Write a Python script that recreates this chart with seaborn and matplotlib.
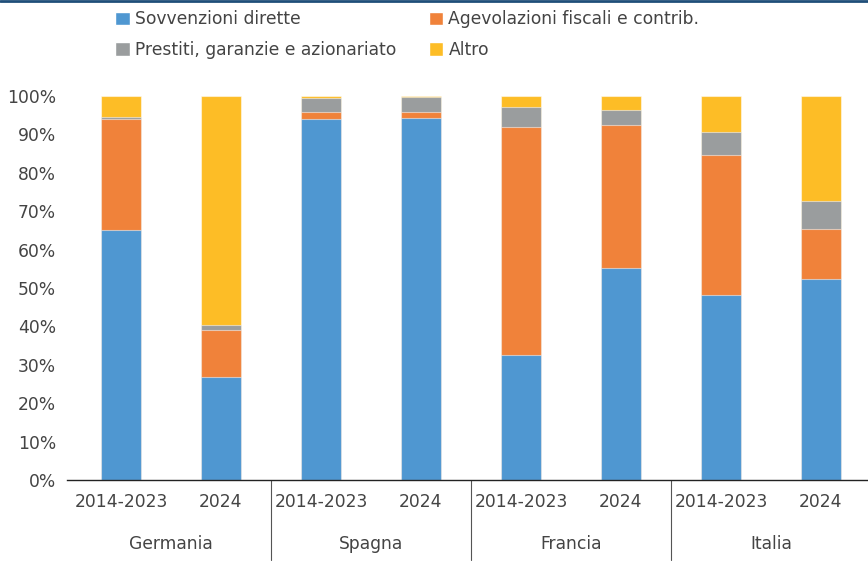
import matplotlib
matplotlib.use("Agg")
import matplotlib.pyplot as plt
import seaborn as sns
import pandas as pd
import numpy as np
from matplotlib.patches import Patch
from matplotlib.lines import Line2D

countries = ["Germania", "Spagna", "Francia", "Italia"]
periods = ["2014-2023", "2024"]
series = ["Sovvenzioni dirette", "Agevolazioni fiscali e contrib.",
          "Prestiti, garanzie e azionariato", "Altro"]
sovvenzioni = [65.2, 26.8, 94.0, 94.3, 32.6, 55.3, 48.1, 52.3]
agevolazioni = [28.8, 12.3, 1.9, 1.6, 59.2, 37.1, 36.6, 13.0]
prestiti = [0.5, 1.3, 3.7, 3.9, 5.4, 4.0, 5.8, 7.4]
altro = [5.5, 59.6, 0.4, 0.2, 2.8, 3.6, 9.5, 27.3]
yticks = [0, 10, 20, 30, 40, 50, 60, 70, 80, 90, 100]

colors = ["#4F97D1", "#F0823A", "#9A9D9E", "#FDBD26"]
text_color = "#444444"
fs = 12.3

sns.set_theme(style="white")
plt.rcParams["font.family"] = ["DejaVu Sans"]

keys = [f"{c} {p}" for c in countries for p in periods]
df = pd.DataFrame({"key": keys, "s1": sovvenzioni, "s2": agevolazioni,
                   "s3": prestiti, "s4": altro})
cum = df[["s1", "s2", "s3", "s4"]].cumsum(axis=1)

fig = plt.figure(figsize=(8.68, 5.70), dpi=100)
ax = fig.add_axes([67 / 868, 90 / 570, 801 / 868, 384 / 570])

for col, color in zip(["s4", "s3", "s2", "s1"], colors[::-1]):
    sns.barplot(x=df["key"], y=cum[col], order=keys, color=color, width=0.4,
                saturation=1, edgecolor=(1, 1, 1, 0.5), linewidth=0.8, ax=ax,
                clip_on=False)

ax.set_xlim(-0.54, 7.47)
ax.set_ylim(0, 100)
ax.set_yticks(yticks)
ax.set_yticklabels([f"{v}%" for v in yticks], fontsize=fs, color=text_color)
ax.set_xticks(range(len(keys)))
ax.set_xticklabels([p for c in countries for p in periods], fontsize=fs,
                   color=text_color)
ax.tick_params(axis="x", length=0, pad=9.5)
ax.tick_params(axis="y", length=0, pad=8.0)
ax.set_xlabel("")
ax.set_ylabel("")
for s in ["left", "right", "top"]:
    ax.spines[s].set_visible(False)
ax.spines["bottom"].set_color("#222222")
ax.spines["bottom"].set_linewidth(1.0)
ax.grid(False)

trans = matplotlib.transforms.blended_transform_factory(ax.transData, ax.transAxes)
for i, c in enumerate(countries):
    ax.text(2 * i + 0.5, -64 / 384, c, transform=trans, ha="center", va="center",
            fontsize=fs, color=text_color)
for b in [1.5, 3.5, 5.5]:
    ax.add_line(Line2D([b, b], [0, -80 / 384], transform=trans, color="#555555",
                       linewidth=0.8, clip_on=False))

handles = [Patch(facecolor=colors[0], label=series[0]),
           Patch(facecolor=colors[2], label=series[2]),
           Patch(facecolor=colors[1], label=series[1]),
           Patch(facecolor=colors[3], label=series[3])]
fig.legend(handles=handles, ncol=2, loc="upper left",
           bbox_to_anchor=(100 / 868, 1 + 5 / 570), frameon=False,
           fontsize=fs, handlelength=0.85, handleheight=0.85,
           handletextpad=0.3, columnspacing=1.9, labelspacing=0.72,
           labelcolor=text_color)

fig.add_artist(Line2D([0, 1], [1 - 1 / 570, 1 - 1 / 570], transform=fig.transFigure,
                      color="#1F4E79", linewidth=2))

fig.savefig("out.png", dpi=100)
